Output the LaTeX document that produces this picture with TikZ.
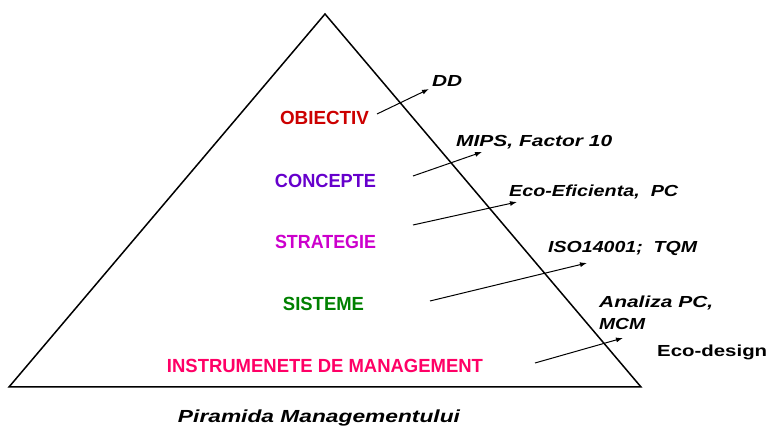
\documentclass[tikz,border=0pt]{standalone}
\usepackage{fontspec}
\setmainfont{Liberation Sans}
\usepackage{graphicx}
\usetikzlibrary{arrows.meta}
\definecolor{cobj}{RGB}{204,0,0}
\definecolor{ccon}{RGB}{102,0,204}
\definecolor{cstr}{RGB}{204,0,204}
\definecolor{csis}{RGB}{0,128,0}
\definecolor{cins}{RGB}{255,0,102}
\newcommand\fitw[2]{\resizebox{#1pt}{\height}{#2}}
\begin{document}
\begin{tikzpicture}[x=1pt,y=-1pt,
  lvl/.style={inner sep=0pt, anchor=base, font=\fontsize{19}{22}\selectfont\bfseries},
  lbl/.style={inner sep=0pt, anchor=base west, font=\fontsize{16}{22}\selectfont\bfseries\itshape},
  arr/.style={-{Latex[length=7pt,width=5pt]}, line width=1pt},
  edge/.style={line width=1.5pt, line join=miter}]
\useasboundingbox (0,0) rectangle (769,427);
% pyramid
\coordinate (apex) at (325,14);
\coordinate (bl) at (9,387);
\coordinate (br) at (641,387);
\draw[edge] (apex) -- (br) -- (bl) -- cycle;
% levels
\node[lvl, text=cobj] (obj) at (324.5,125) {\fitw{89}{OBIECTIV}};
\node[lvl, text=ccon] (con) at (325.5,188) {\fitw{101}{CONCEPTE}};
\node[lvl, text=cstr] (str) at (325.5,249) {\fitw{101}{STRATEGIE}};
\node[lvl, text=csis] (sis) at (323.5,311) {\fitw{81}{SISTEME}};
\node[lvl, text=cins] (ins) at (325,373) {\fitw{316}{INSTRUMENETE DE MANAGEMENT}};
% labels
\node[lbl] (dd) at (432,87) {\fitw{30}{DD}};
\node[lbl] (mips) at (456,147) {\fitw{156}{MIPS, Factor 10}};
\node[lbl] (eco) at (509,197) {\fitw{169}{Eco-Eficienta,\ \ PC}};
\node[lbl] (iso) at (548,253) {\fitw{149}{ISO14001;\ \ TQM}};
\node[lbl, align=left] (ana) at (599,330) {\fitw{114}{Analiza PC,}\\\fitw{46}{MCM}};
\node[inner sep=0pt, anchor=base west, font=\fontsize{16}{19}\selectfont\bfseries] (ecod) at (657,357) {\fitw{110}{Eco-design}};
\node[inner sep=0pt, anchor=base, font=\fontsize{17.5}{20}\selectfont\bfseries\itshape] (title) at (319,423) {\fitw{282}{Piramida Managementului}};
% arrows
\coordinate (s1) at (377,114); \coordinate (e1) at (429,89);
\coordinate (s2) at (413,176); \coordinate (e2) at (482,152);
\coordinate (s3) at (413,225); \coordinate (e3) at (517,202);
\coordinate (s4) at (430,301); \coordinate (e4) at (587,263);
\coordinate (s5) at (535,363); \coordinate (e5) at (623,338);
\draw[arr] (s1) -- (e1);
\draw[arr] (s2) -- (e2);
\draw[arr] (s3) -- (e3);
\draw[arr] (s4) -- (e4);
\draw[arr] (s5) -- (e5);
\end{tikzpicture}
\end{document}
